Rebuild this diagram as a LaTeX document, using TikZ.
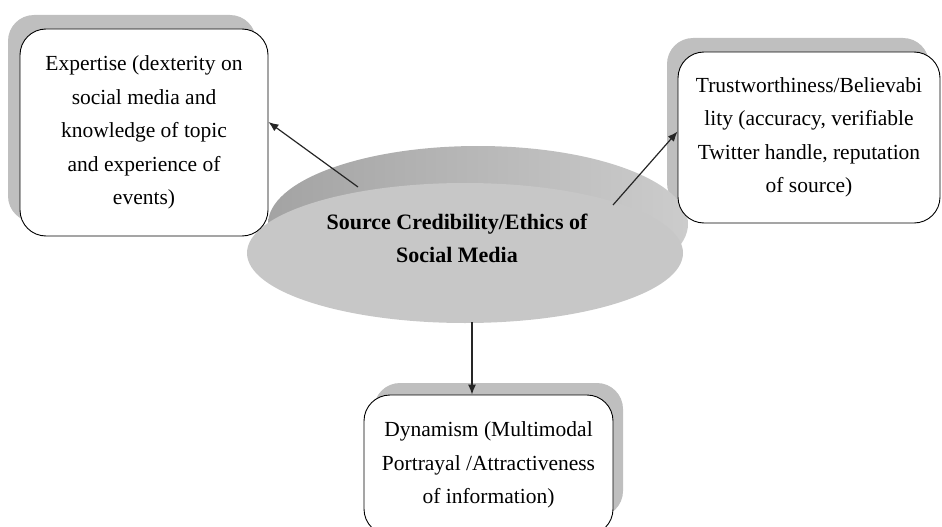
\documentclass[tikz,border=0pt]{standalone}
\usepackage{fontspec}
\setmainfont{Liberation Serif}
\usetikzlibrary{arrows.meta,shapes.geometric}

\begin{document}
\begin{tikzpicture}[x=1pt,y=-1pt,
		card/.style={draw=black, line width=0.9pt, fill=white, rounded corners=26pt, inner sep=0pt,
			align=center, font=\fontsize{21.5}{33.5}\selectfont},
		cardshadow/.style={fill=black!25, rounded corners=26pt},
		link/.style={line width=1.2pt, draw=black!85, -{Latex[length=10pt,width=8pt]}}]
			\useasboundingbox (0,0) rectangle (942,527);
			\clip (0,0) rectangle (942,527);
			% shadows behind the three boxes
			\fill[cardshadow] (8,15) rectangle (256,222);
			\fill[cardshadow] (667,38) rectangle (929,209);
			\fill[cardshadow] (374,383) rectangle (623,517);
			% the disc: rim behind, face in front
			\shade[left color=black!36, right color=black!20] (478,224) ellipse [x radius=210pt, y radius=78pt];
			\node[ellipse, fill=black!22, minimum width=436pt, minimum height=140pt, inner sep=0pt] (source) at (465,253) {};
			\node[card, minimum width=248pt, minimum height=207pt] (expertise) at (144,132.5)
				{Expertise (dexterity on\\social media and\\knowledge of topic\\and experience of\\events)};
			\node[card, minimum width=262pt, minimum height=171pt] (trust) at (809,137.5)
				{Trustworthiness/Believabi\\lity (accuracy, verifiable\\Twitter handle, reputation\\of source)};
			\node[card, minimum width=249pt, minimum height=140pt] (dynamism) at (488.5,465)
				{Dynamism (Multimodal\\Portrayal /Attractiveness\\of information)};
			\node[align=center, font=\bfseries\fontsize{22}{33}\selectfont] (sourcetext) at (457,238.5)
				{Source Credibility/Ethics of\\Social Media};
			\coordinate (fromexp) at (358,187);
			\coordinate (fromtrust) at (613,205);
			\coordinate (fromdyn) at (472,322);
			\draw[link] (fromexp) -- ([yshift=10.5pt]expertise.east);
			\draw[link] (fromtrust) -- ([yshift=6pt]trust.west);
			\draw[link] (fromdyn) -- (fromdyn |- dynamism.north);
		\end{tikzpicture}
\end{document}
